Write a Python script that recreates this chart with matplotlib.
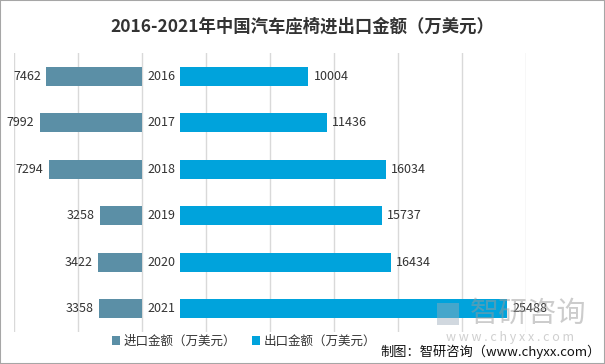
import matplotlib.pyplot as plt
from matplotlib.patches import Rectangle

plt.rcParams['font.family'] = ['Noto Sans CJK SC', 'DejaVu Sans']

years = ["2016", "2017", "2018", "2019", "2020", "2021"]
imports = [7462, 7992, 7294, 3258, 3422, 3358]
exports = [10004, 11436, 16034, 15737, 16434, 25488]

GAP = 3000            # room in the middle for the year labels
IMP_COLOR = "#5b8fa6"
EXP_COLOR = "#00a3dc"

fig = plt.figure(figsize=(6.05, 3.64), dpi=100)
ax = fig.add_axes([14 / 605, 1 - 332 / 364, 512 / 605, 279 / 364])

y = list(range(len(years)))
ax.barh(y, [-v for v in imports], height=0.4, color=IMP_COLOR, label="进口金额（万美元）", zorder=2)
ax.barh(y, exports, left=GAP, height=0.4, color=EXP_COLOR, label="出口金额（万美元）", zorder=2)

for i, (yr, imp, exp) in enumerate(zip(years, imports, exports)):
    ax.text(GAP / 2, i, yr, ha="center", va="center", fontsize=9, color="#333333")
    ax.annotate(str(imp), (-imp, i), xytext=(-4, 0), textcoords="offset points",
                ha="right", va="center", fontsize=9, color="#333333")
    ax.annotate(str(exp), (GAP + exp, i), xytext=(4, 0), textcoords="offset points",
                ha="left", va="center", fontsize=9, color="#333333", zorder=5)

ax.set_xlim(-10000, 30000)
ax.set_ylim(len(years) - 0.5, -0.5)
ax.set_xticks(range(-10000, 30001, 5000))
ax.grid(axis="x", color="#d9d9d9", linewidth=1, zorder=0)
ax.tick_params(left=False, bottom=False, labelleft=False, labelbottom=False)
for s in ax.spines.values():
    s.set_visible(False)

fig.text(0.5, 1 - 27 / 364, "2016-2021年中国汽车座椅进出口金额（万美元）",
         ha="center", va="center", fontsize=12.5, fontweight="bold", color="#333333")

fig.legend(loc="center", bbox_to_anchor=(244 / 605, 1 - 341 / 364), ncol=2, frameon=False,
           fontsize=9, handlelength=0.7, handleheight=0.7, columnspacing=1.2,
           handletextpad=0.3, labelcolor="#333333")

# watermark
fig.text(528 / 605, 1 - 314 / 364, "智研咨询", ha="center", va="center", fontsize=21,
         color="#9a9a9a", alpha=0.5, zorder=4)
fig.text(510 / 605, 1 - 337 / 364, "w w w . c h y x x . c o m", ha="center", va="center",
         fontsize=9, color="#b0b0b0", alpha=0.6, zorder=4)
fig.patches.append(Rectangle((437 / 605, 1 - 325 / 364), 22 / 605, 22 / 364,
                             transform=fig.transFigure, facecolor="#9aaab8", alpha=0.45,
                             edgecolor="none", zorder=4))

fig.text(601 / 605, 1 - 352 / 364, "制图：智研咨询（www.chyxx.com）", ha="right", va="center",
         fontsize=9.5, color="#111111")

fig.patches.append(Rectangle((0, 0), 1, 1, transform=fig.transFigure, fill=False,
                             edgecolor="#a6a6a6", linewidth=1.5))

fig.savefig("out.png", dpi=100)
